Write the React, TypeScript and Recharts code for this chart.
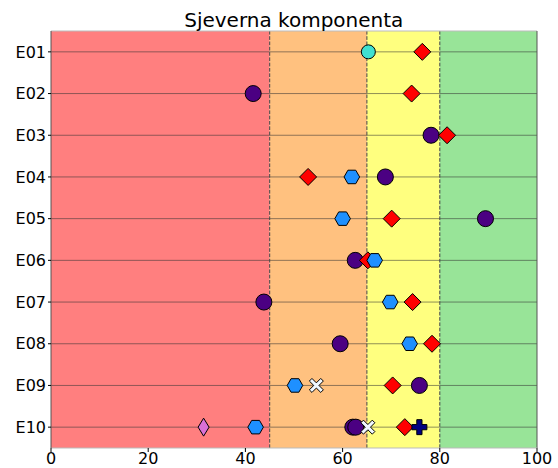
import React from 'react';
import { ScatterChart, Scatter, XAxis, YAxis, ReferenceArea, ReferenceLine } from 'recharts';

const categories = ['E01', 'E02', 'E03', 'E04', 'E05', 'E06', 'E07', 'E08', 'E09', 'E10'];
const xTicks = [0, 20, 40, 60, 80, 100];
const zoneBounds = [0, 45, 65, 80, 100];
const zoneColors = ['#ff7f7f', '#ffc17f', '#ffff7f', '#98e498'];
const dashedLimits = [45, 65, 80];

type V = number | null;
const darkCircle: V[] = [null, null, null, null, null, null, null, null, null, 62.1];
const purpleCircle: V[] = [null, 41.6, 78.2, 68.8, 89.4, 62.6, 43.8, 59.5, 75.8, 62.7];
const tealCircle: V[] = [65.3, null, null, null, null, null, null, null, null, null];
const orchidDiamond: V[] = [null, null, null, null, null, null, null, null, null, 31.4];
const redDiamond: V[] = [76.4, 74.2, 81.5, 52.9, 70.1, 65.2, 74.4, 78.4, 70.3, 72.8];
const blueHex: V[] = [null, null, null, 61.9, 60.0, 66.6, 69.8, 73.8, 50.2, 42.1];
const whiteX: V[] = [null, null, null, null, null, null, null, null, 54.6, 65.2];
const navyPlus: V[] = [null, null, null, null, null, null, null, null, null, 75.8];

const toPoints = (vals: V[]) =>
  vals
    .map((v, i) => (v == null ? null : { x: v, y: i }))
    .filter((p) => p != null) as { x: number; y: number }[];

const Marker = ({ kind, cx, cy }: { kind: string; cx: number; cy: number }) => {
  if (cx == null || cy == null) return null;
  const sw = 1;
  switch (kind) {
    case 'circle':
      return <circle cx={cx} cy={cy} r={8} fill="#4b0082" stroke="#000" strokeWidth={sw} />;
    case 'teal':
      return <circle cx={cx} cy={cy} r={7} fill="#40e0d0" stroke="#000" strokeWidth={sw} />;
    case 'diamond': {
      const a = 8.5;
      return (
        <polygon
          points={`${cx},${cy - a} ${cx + a},${cy} ${cx},${cy + a} ${cx - a},${cy}`}
          fill="#ff0000"
          stroke="#000"
          strokeWidth={sw}
        />
      );
    }
    case 'thin': {
      const w = 5.5, h = 9;
      return (
        <polygon
          points={`${cx},${cy - h} ${cx + w},${cy} ${cx},${cy + h} ${cx - w},${cy}`}
          fill="#da70d6"
          stroke="#000"
          strokeWidth={sw}
        />
      );
    }
    case 'hex': {
      const r = 7.8;
      const pts: string[] = [];
      for (let k = 0; k < 6; k++) {
        const ang = (Math.PI / 3) * k;
        pts.push(`${cx + r * Math.cos(ang)},${cy + r * Math.sin(ang)}`);
      }
      return <polygon points={pts.join(' ')} fill="#1e90ff" stroke="#000" strokeWidth={sw} />;
    }
    case 'x': {
      const s = 7, t = 2.6;
      const base = [
        [-s + t, -s], [0, -t], [s - t, -s], [s, -s + t], [t, 0], [s, s - t],
        [s - t, s], [0, t], [-s + t, s], [-s, s - t], [-t, 0], [-s, -s + t],
      ];
      return (
        <polygon
          points={base.map(([px, py]) => `${cx + px},${cy + py}`).join(' ')}
          fill="#f0f8ff"
          stroke="#000"
          strokeWidth={sw}
        />
      );
    }
    case 'plus': {
      const s = 7.5, t = 2.6;
      const base = [
        [-t, -s], [t, -s], [t, -t], [s, -t], [s, t], [t, t],
        [t, s], [-t, s], [-t, t], [-s, t], [-s, -t], [-t, -t],
      ];
      return (
        <polygon
          points={base.map(([px, py]) => `${cx + px},${cy + py}`).join(' ')}
          fill="#000080"
          stroke="#000"
          strokeWidth={sw}
        />
      );
    }
  }
  return null;
};

const series: { name: string; vals: V[]; kind: string }[] = [
  { name: 'dark', vals: darkCircle, kind: 'circle' },
  { name: 'purple', vals: purpleCircle, kind: 'circle' },
  { name: 'teal', vals: tealCircle, kind: 'teal' },
  { name: 'orchid', vals: orchidDiamond, kind: 'thin' },
  { name: 'red', vals: redDiamond, kind: 'diamond' },
  { name: 'blue', vals: blueHex, kind: 'hex' },
  { name: 'white', vals: whiteX, kind: 'x' },
  { name: 'navy', vals: navyPlus, kind: 'plus' },
];

const font = 'DejaVu Sans, sans-serif';

export default function App() {
  return (
    <div style={{ position: 'absolute', left: 0, top: 0, width: 558, height: 468, background: '#fff' }}>
      <ScatterChart width={558} height={468} margin={{ top: 31, right: 21, bottom: 0, left: 0 }}>
        <XAxis
          type="number"
          dataKey="x"
          domain={[0, 100]}
          ticks={xTicks}
          allowDataOverflow
          height={20}
          tickSize={4}
          tickMargin={1}
          tick={{ fontSize: 16, fill: '#000', fontFamily: font }}
          tickLine={{ stroke: '#000' }}
          axisLine={{ stroke: '#bbb' }}
        />
        <YAxis
          type="number"
          dataKey="y"
          domain={[-0.5, 9.5]}
          reversed
          allowDataOverflow
          ticks={categories.map((_, i) => i)}
          interval={0}
          tickFormatter={(v: number) => categories[v] ?? ''}
          width={51}
          tickSize={3}
          tickMargin={2}
          tick={{ fontSize: 16, fill: '#000', fontFamily: font }}
          tickLine={{ stroke: '#000' }}
          axisLine={{ stroke: '#555' }}
        />
        {zoneColors.map((c, i) => (
          <ReferenceArea
            key={'z' + i}
            x1={zoneBounds[i]}
            x2={zoneBounds[i + 1]}
            y1={-0.5}
            y2={9.5}
            fill={c}
            fillOpacity={1}
            stroke="none"
          />
        ))}
        {categories.map((c, i) => (
          <ReferenceLine key={'h' + c} y={i} stroke="#333" strokeOpacity={0.55} strokeWidth={1} />
        ))}
        {dashedLimits.map((x) => (
          <ReferenceLine key={'d' + x} x={x} stroke="#444" strokeDasharray="3.7 1.6" strokeWidth={1} />
        ))}
        <ReferenceLine y={-0.5} stroke="#bbb" />
        <ReferenceLine x={100} stroke="#555" />
        {series.map((s) => (
          <Scatter
            key={s.name}
            name={s.name}
            data={toPoints(s.vals)}
            isAnimationActive={false}
            shape={(p: any) => <Marker kind={s.kind} cx={p.cx} cy={p.cy} />}
          />
        ))}
      </ScatterChart>
      <svg width={558} height={40} style={{ position: 'absolute', left: 0, top: 0, pointerEvents: 'none' }}>
        <text x={293.8} y={26.7} textAnchor="middle" fontSize={20} fontFamily={font} fill="#000">
          Sjeverna komponenta
        </text>
      </svg>
    </div>
  );
}
